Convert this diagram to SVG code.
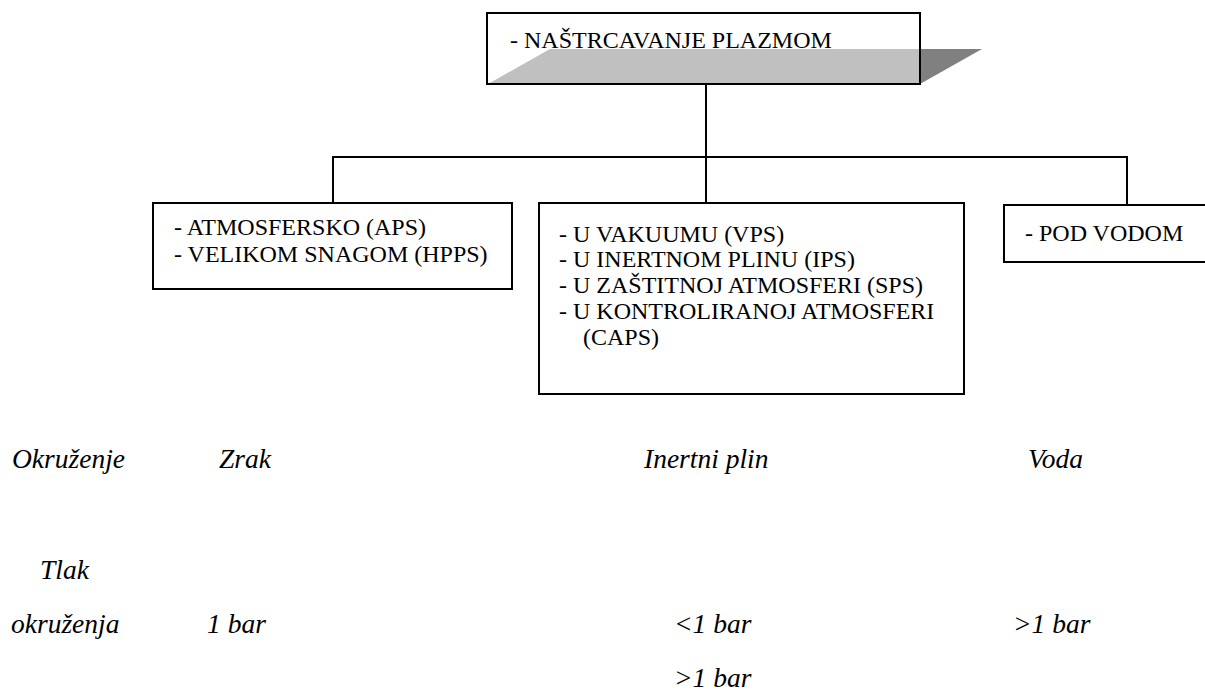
<svg xmlns="http://www.w3.org/2000/svg" width="1205" height="693" viewBox="0 0 1205 693">
<style>
.box{fill:none;stroke:#000;stroke-width:2}
.bg{fill:#fff}
.t{font-family:"Liberation Serif","Times New Roman",serif;font-size:24px;fill:#000}
.i{font-family:"Liberation Serif","Times New Roman",serif;font-size:27.5px;font-style:italic;fill:#000}
.c{fill:none;stroke:#000;stroke-width:2}
</style>
<rect x="0" y="0" width="1205" height="693" fill="#fff"/>
<g id="connectors">
<line class="c" x1="706" y1="84" x2="706" y2="204"/>
<polyline class="c" points="333,204 333,157 1127,157 1127,205"/>
</g>
<g id="node-top">
<rect class="bg" x="487" y="13" width="433" height="71"/>
<polygon points="488,84 550,49 920,49 920,84" fill="#c0c0c0"/>
<polygon points="920,49 982,49 920,84" fill="#808080"/>
<text class="t" x="510" y="48">- NAŠTRCAVANJE PLAZMOM</text>
<rect class="box" x="487" y="13" width="433" height="71"/>
</g>
<g id="node-left">
<rect class="bg box" x="153" y="203" width="359" height="86"/>
<text class="t" x="174" y="235">- ATMOSFERSKO (APS)</text>
<text class="t" x="174" y="262">- VELIKOM SNAGOM (HPPS)</text>
</g>
<g id="node-middle">
<rect class="bg box" x="539" y="203" width="425" height="191"/>
<text class="t" x="559" y="242">- U VAKUUMU (VPS)</text>
<text class="t" x="559" y="267">- U INERTNOM PLINU (IPS)</text>
<text class="t" x="559" y="293">- U ZAŠTITNOJ ATMOSFERI (SPS)</text>
<text class="t" x="559" y="319">- U KONTROLIRANOJ ATMOSFERI</text>
<text class="t" x="583" y="345">(CAPS)</text>
</g>
<g id="node-right">
<rect class="bg box" x="1004" y="205" width="210" height="57"/>
<text class="t" x="1025" y="241">- POD VODOM</text>
</g>
<g id="table">
<text class="i" x="12" y="468">Okruženje</text>
<text class="i" x="219" y="468">Zrak</text>
<text class="i" x="644" y="468">Inertni plin</text>
<text class="i" x="1028" y="468">Voda</text>
<text class="i" x="40" y="579">Tlak</text>
<text class="i" x="11" y="633">okruženja</text>
<text class="i" x="207" y="633">1 bar</text>
<text class="i" x="674" y="633">&lt;1 bar</text>
<text class="i" x="1013" y="633">&gt;1 bar</text>
<text class="i" x="674" y="687">&gt;1 bar</text>
</g>
</svg>
